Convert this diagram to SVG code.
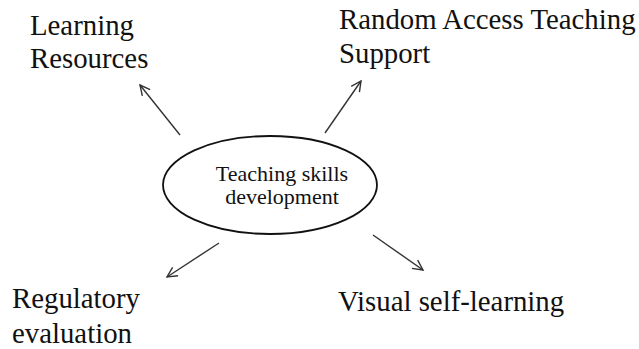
<svg xmlns="http://www.w3.org/2000/svg" width="639" height="349" viewBox="0 0 639 349">
<defs>
<style>
.lbl{font-family:"Liberation Serif","Times New Roman",serif;font-size:28.8px;fill:#111}
.ctr{font-family:"Liberation Serif","Times New Roman",serif;font-size:22px;fill:#111;text-anchor:middle}
.conn{stroke:#333;stroke-width:1.4;fill:none;marker-end:url(#arr)}
</style>
<marker id="arr" markerUnits="userSpaceOnUse" markerWidth="14" markerHeight="14" refX="12" refY="6" orient="auto" viewBox="0 0 14 12">
<path d="M2,1 L12,6 L2,11" fill="none" stroke="#333" stroke-width="1.4"/>
</marker>
</defs>
<rect width="639" height="349" fill="#fff"/>
<g id="center">
<ellipse cx="270" cy="185" rx="107" ry="49" fill="none" stroke="#111" stroke-width="1.8"/>
<text class="ctr" x="282" y="181">Teaching skills</text>
<text class="ctr" x="282" y="204">development</text>
</g>
<g id="learning-resources">
<text class="lbl" x="30" y="35">Learning</text>
<text class="lbl" x="30" y="68">Resources</text>
</g>
<g id="random-access">
<text class="lbl" x="339" y="29">Random Access Teaching</text>
<text class="lbl" x="339" y="63">Support</text>
</g>
<g id="regulatory">
<text class="lbl" x="12" y="308">Regulatory</text>
<text class="lbl" x="12" y="343">evaluation</text>
</g>
<g id="visual">
<text class="lbl" x="338" y="311">Visual self-learning</text>
</g>
<g id="connectors">
<line class="conn" x1="180" y1="135" x2="140" y2="85"/>
<line class="conn" x1="325" y1="133" x2="361" y2="81"/>
<line class="conn" x1="219" y1="243" x2="167" y2="277"/>
<line class="conn" x1="373" y1="235" x2="423" y2="270"/>
</g>
</svg>
